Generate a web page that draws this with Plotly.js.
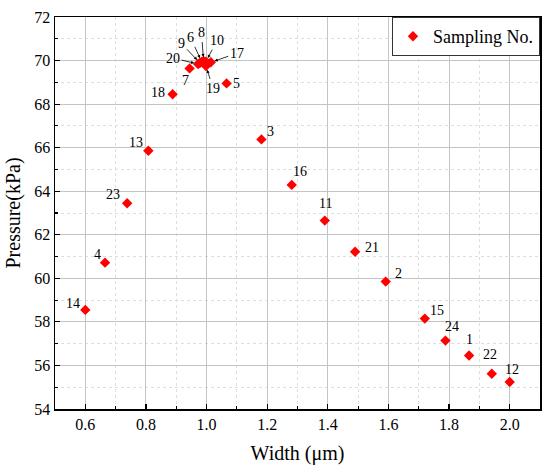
<!DOCTYPE html>
<html>
<head>
<meta charset="utf-8">
<script src="https://cdn.plot.ly/plotly-3.0.1.min.js"></script>
<style>html,body{margin:0;padding:0;background:#fff;}#chart{width:550px;height:476px;}</style>
</head>
<body>
<div id="chart"></div>
<script>
// Data
const samplingNo = ["1","2","3","4","5","6","7","8","9","10","11","12","13","14","15","16","17","18","19","20","21","22","23","24"];
const widthUm = [1.866,1.591,1.181,0.665,1.066,0.984,0.944,0.990,0.978,0.998,1.390,2.000,0.808,0.600,1.720,1.281,1.014,0.888,0.998,0.972,1.490,1.941,0.738,1.788];
const pressureKPa = [56.46,59.85,66.38,60.72,68.95,69.94,69.64,69.98,69.89,69.95,62.65,55.24,65.86,58.55,58.15,64.29,69.92,68.45,69.75,69.84,61.22,55.62,63.45,57.14];
const xTickVals = [0.6,0.8,1.0,1.2,1.4,1.6,1.8,2.0];
const xTickText = ["0.6","0.8","1.0","1.2","1.4","1.6","1.8","2.0"];
const yTickVals = [54,56,58,60,62,64,66,68,70,72];

// Label placement (pixel offsets; styling only)
const labelShift = {
  "1":[0,-16],"2":[13,-8],"3":[9,-8],"4":[-8,-8],"5":[10,0],"7":[-4,12],
  "11":[1,-17],"12":[2,-13],"13":[-12,-8],"14":[-12,-6],"15":[12,-8],"16":[8,-13],
  "18":[-15,-2],"21":[17,-4],"22":[-2,-19],"23":[-14,-9],"24":[7,-14]
};
const arrowLabel = {
  "20":[-25,-6],"9":[-18,-19],"6":[-11,-24],"8":[-2,-28],"10":[11,-21],"17":[26,-9],"19":[7,22]
};

const serif = "Times New Roman";
const annotations = [];
samplingNo.forEach((n,i)=>{
  if (labelShift[n]) {
    annotations.push({x:widthUm[i], y:pressureKPa[i], text:n, showarrow:false,
      xshift:labelShift[n][0], yshift:-labelShift[n][1],
      font:{family:serif,size:14,color:"#000"}});
  } else if (arrowLabel[n]) {
    annotations.push({x:widthUm[i], y:pressureKPa[i], text:n, showarrow:true,
      ax:arrowLabel[n][0], ay:arrowLabel[n][1], axref:"pixel", ayref:"pixel",
      arrowhead:2, arrowsize:0.8, arrowwidth:0.8, arrowcolor:"#000", standoff:4,
      font:{family:serif,size:14,color:"#000"}});
  }
});

const trace = {
  x: widthUm, y: pressureKPa, type:"scatter", mode:"markers", name:"Sampling No.",
  marker:{symbol:"diamond", size:8, color:"#ff0000"}
};

const axisCommon = {
  showline:true, linecolor:"#000", linewidth:1.5, mirror:true,
  ticks:"inside", ticklen:5, tickwidth:1.2, tickcolor:"#000",
  showgrid:true, gridcolor:"#c4c4c4", gridwidth:1, zeroline:false,
  tickfont:{family:serif,size:16,color:"#000"}
};

const layout = {
  width:550, height:476,
  margin:{l:55, r:10, t:17, b:67},
  paper_bgcolor:"#fff", plot_bgcolor:"#fff",
  font:{family:serif, color:"#000"},
  showlegend:true,
  legend:{x:1, xanchor:"right", y:1, yanchor:"top", bgcolor:"#fff",
    bordercolor:"#333", borderwidth:1, font:{family:serif,size:18,color:"#000"}},
  xaxis:Object.assign({}, axisCommon, {
    range:[0.5,2.1], tickvals:xTickVals, ticktext:xTickText,
    title:{text:"Width (μm)", font:{family:serif,size:20,color:"#000"}, standoff:14},
    minor:{dtick:0.1, ticks:"inside", ticklen:3, tickcolor:"#000", showgrid:true, gridcolor:"#dedede", griddash:"dot"}
  }),
  yaxis:Object.assign({}, axisCommon, {
    range:[54,72], tickvals:yTickVals,
    title:{text:"Pressure(kPa)", font:{family:serif,size:20,color:"#000"}, standoff:8},
    minor:{dtick:1, ticks:"inside", ticklen:3, tickcolor:"#000", showgrid:true, gridcolor:"#dedede", griddash:"dot"}
  }),
  annotations: annotations
};

Plotly.newPlot("chart", [trace], layout, {displayModeBar:false, staticPlot:true});
</script>
</body>
</html>
